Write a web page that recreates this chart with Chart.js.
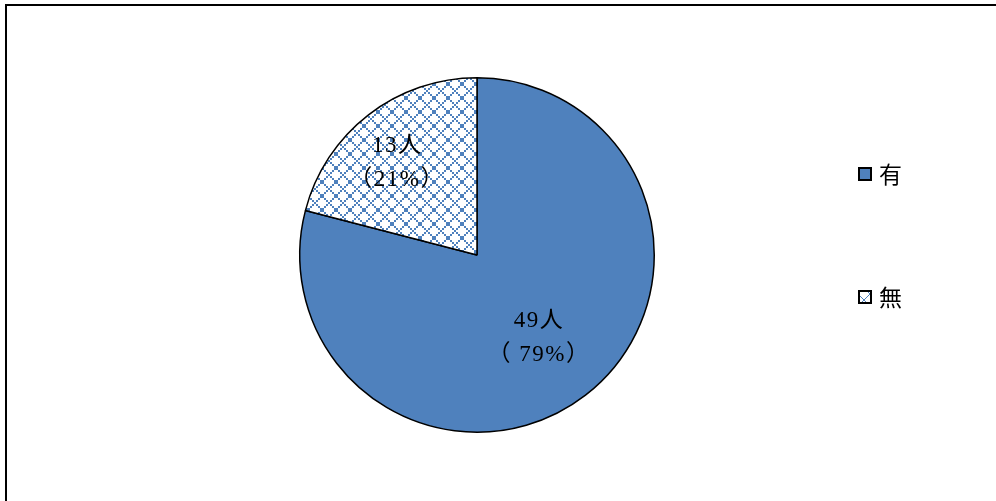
<!DOCTYPE html>
<html>
<head>
<meta charset="utf-8">
<script src="https://cdn.jsdelivr.net/npm/chart.js@4"></script>
<style>
  html, body { margin: 0; padding: 0; background: #fff; }
  #wrap { position: relative; width: 996px; height: 501px; overflow: hidden; }
  #frame { position: absolute; left: 5px; top: 4px; width: 1200px; height: 800px;
           border-left: 2px solid #000; border-top: 2px solid #000; pointer-events: none; }
  canvas { position: absolute; left: 0; top: 0; }
</style>
</head>
<body>
<div id="wrap">
  <canvas id="pie" width="996" height="501"></canvas>
  <div id="frame"></div>
</div>
<script>
// data
const categories = ["有", "無"];
const counts = [49, 13];
const pctSpacer = [" ", ""];   // the reference writes "（ 79%）" but "（21%）"

const BLUE = "#4f81bd";
const FONT = "'Liberation Serif', 'Noto Sans CJK JP', serif";

// cross-hatch fill for 無, drawn dot by dot so it stays crisp
function makeHatch(size, dot) {
  const c = document.createElement("canvas");
  c.width = size;
  c.height = size;
  const g = c.getContext("2d");
  g.fillStyle = "#fff";
  g.fillRect(0, 0, size, size);
  g.fillStyle = BLUE;
  for (let i = 0; i < size; i += dot) {
    g.fillRect(i, i, dot, dot);
    g.fillRect(size - dot - i, i, dot, dot);
  }
  return g.createPattern(c, "repeat");
}
const hatch = makeHatch(14, 2);
const fills = [BLUE, hatch];

const total = counts.reduce((a, b) => a + b, 0);
const labelDist = [0.59, 0.69];          // fraction of radius, per slice
const labelNudge = [[-2, 0], [-5, 5]];   // small pixel tweaks

// text inside slices
const sliceLabels = {
  id: "sliceLabels",
  afterDatasetsDraw(chart) {
    const ctx = chart.ctx;
    const meta = chart.getDatasetMeta(0);
    ctx.save();
    ctx.fillStyle = "#000";
    ctx.font = "23px " + FONT;
    ctx.letterSpacing = "1.5px";
    ctx.textAlign = "center";
    ctx.textBaseline = "middle";
    meta.data.forEach((arc, i) => {
      const p = arc.getProps(["x", "y", "startAngle", "endAngle", "outerRadius"], true);
      const mid = (p.startAngle + p.endAngle) / 2;
      const d = p.outerRadius * labelDist[i];
      const x = p.x + Math.cos(mid) * d + labelNudge[i][0];
      const y = p.y + Math.sin(mid) * d + labelNudge[i][1];
      const pct = Math.round(counts[i] / total * 100);
      ctx.fillText(counts[i] + "人", x, y - 17);
      ctx.fillText("（" + pctSpacer[i] + pct + "%）", x, y + 17);
    });
    ctx.restore();
  }
};

// legend on the right, spaced like the reference
const sideLegend = {
  id: "sideLegend",
  afterDraw(chart) {
    const ctx = chart.ctx;
    const legendX = 859;
    const rowsY = [174, 297];
    ctx.save();
    chart.data.labels.forEach((lab, i) => {
      const y = rowsY[i];
      ctx.fillStyle = i === 0 ? BLUE : makeHatch(12, 1);
      ctx.fillRect(legendX, y - 6, 12, 12);
      ctx.strokeStyle = "#000";
      ctx.lineWidth = 2;
      ctx.strokeRect(legendX, y - 6, 12, 12);
      ctx.fillStyle = "#000";
      ctx.font = "23px 'Noto Sans CJK JP', serif";
      ctx.textAlign = "left";
      ctx.textBaseline = "middle";
      ctx.fillText(lab, legendX + 20, y);
    });
    ctx.restore();
  }
};

new Chart(document.getElementById("pie"), {
  type: "pie",
  data: {
    labels: categories,
    datasets: [{
      data: counts,
      backgroundColor: fills,
      borderColor: "#000",
      borderWidth: 1.5,
    }],
  },
  options: {
    responsive: false,
    animation: false,
    layout: { padding: { left: 299, right: 341, top: 77, bottom: 68 } },
    plugins: {
      legend: { display: false },
      tooltip: { enabled: false },
    },
  },
  plugins: [sliceLabels, sideLegend],
});
</script>
</body>
</html>
